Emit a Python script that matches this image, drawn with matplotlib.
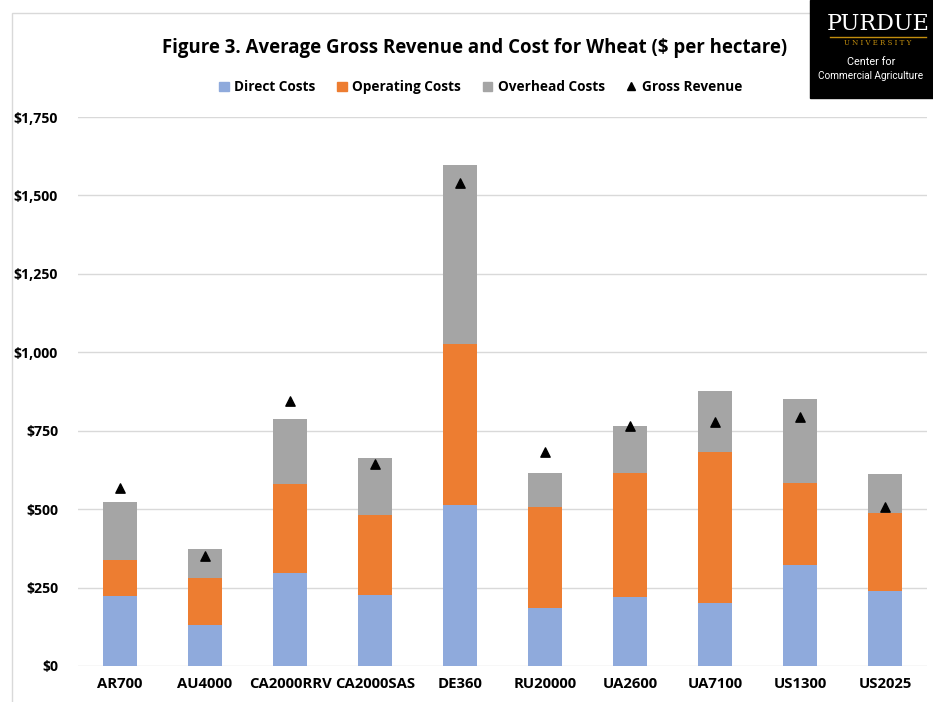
import numpy as np
import matplotlib.pyplot as plt
from matplotlib.lines import Line2D
from matplotlib.patches import Patch, Rectangle

plt.rcParams['font.family'] = ['Open Sans', 'DejaVu Sans']

regions = ["AR700", "AU4000", "CA2000RRV", "CA2000SAS", "DE360",
           "RU20000", "UA2600", "UA7100", "US1300", "US2025"]
direct_costs = [223, 132, 298, 226, 513, 184, 221, 200, 322, 240]
operating_costs = [115, 149, 281, 256, 513, 323, 394, 483, 260, 248]
overhead_costs = [184, 91, 209, 182, 571, 107, 150, 195, 268, 123]
gross_revenue = [567, 352, 845, 644, 1540, 681, 764, 777, 793, 507]

yticks = [0, 250, 500, 750, 1000, 1250, 1500, 1750]

c_direct = '#8FAADC'
c_oper = '#ED7D31'
c_over = '#A5A5A5'

fig = plt.figure(figsize=(9.33, 7.02), dpi=100)
ax = fig.add_axes([0.0831, 0.0513, 0.911, 0.782])

x = np.arange(len(regions))
d = np.array(direct_costs)
o = np.array(operating_costs)
h = np.array(overhead_costs)
w = 0.41
ax.bar(x, d, w, color=c_direct, zorder=2)
ax.bar(x, o, w, bottom=d, color=c_oper, zorder=2)
ax.bar(x, h, w, bottom=d + o, color=c_over, zorder=2)
ax.scatter(x, gross_revenue, marker='^', s=45, color='black', zorder=3)

ax.set_xlim(-0.5, len(regions) - 0.5)
ax.set_ylim(0, 1750)
ax.set_yticks(yticks)
ax.set_yticklabels([f"${v:,}" for v in yticks], fontsize=10.2, fontweight='bold')
ax.set_xticks(x)
ax.set_xticklabels(regions, fontsize=10.7, fontweight='bold')
ax.tick_params(length=0, pad=8)
ax.tick_params(axis='y', pad=14)
ax.grid(axis='y', color='#D9D9D9', lw=1, zorder=0)
for s in ax.spines.values():
    s.set_visible(False)

fig.text(0.509, 0.932, "Figure 3. Average Gross Revenue and Cost for Wheat ($ per hectare)",
         ha='center', va='center', fontsize=13.4, fontweight='bold')

handles = [Patch(color=c_direct, label='Direct Costs'),
           Patch(color=c_oper, label='Operating Costs'),
           Patch(color=c_over, label='Overhead Costs'),
           Line2D([], [], marker='^', color='black', ls='none', markersize=6, label='Gross Revenue')]
leg = fig.legend(handles=handles, loc='center', bbox_to_anchor=(0.515, 0.876), ncol=4,
                 frameon=False, handlelength=0.7, handleheight=0.7, handletextpad=0.4,
                 columnspacing=1.6, prop={'size': 9.8, 'weight': 'bold'})

# light frame around chart
fig.add_artist(Rectangle((12 / 933, -0.01), 1.0, 1 - 13 / 702 + 0.01, transform=fig.transFigure,
                         fill=False, edgecolor='#D9D9D9', lw=1))

# logo box
fig.add_artist(Rectangle((810 / 933, 1 - 98 / 702), 123 / 933, 98 / 702,
                         transform=fig.transFigure, color='black', zorder=5))
fig.text(878 / 933, 1 - 24 / 702, "PURDUE", ha='center', va='center', color='white',
         fontsize=16, family='DejaVu Serif', zorder=6)
fig.add_artist(Line2D([830 / 933, 926 / 933], [1 - 37 / 702, 1 - 37 / 702],
                      transform=fig.transFigure, color='#C28E0E', lw=1, zorder=6))
fig.text(878 / 933, 1 - 43 / 702, "U N I V E R S I T Y", ha='center', va='center',
         color='#C28E0E', fontsize=5, family='DejaVu Serif', zorder=6)
fig.text(871 / 933, 1 - 62 / 702, "Center for", ha='center', va='center', color='white',
         fontsize=7.8, family='Roboto', zorder=6)
fig.text(871 / 933, 1 - 76 / 702, "Commercial Agriculture", ha='center', va='center',
         color='white', fontsize=7.2, family='Roboto', zorder=6)

fig.savefig("out.png", dpi=100)
